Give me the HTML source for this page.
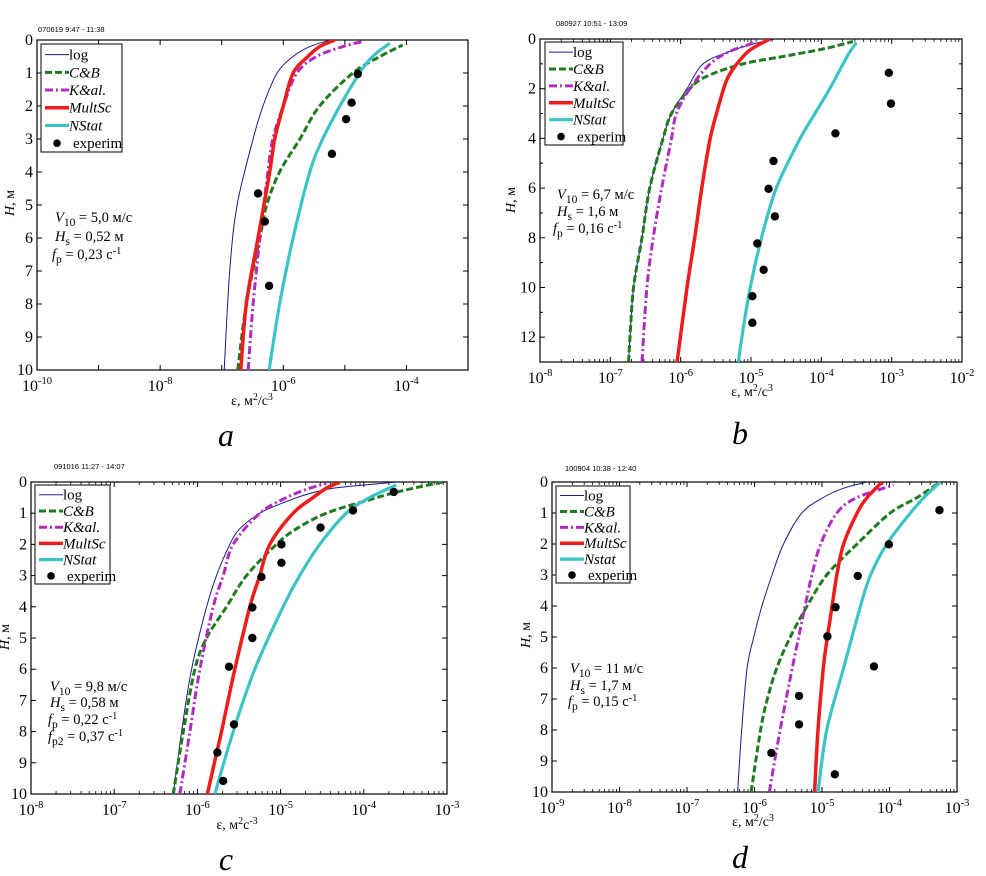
<!DOCTYPE html>
<html><head><meta charset="utf-8">
<style>
body{margin:0;background:#fff;}
svg{display:block;font-family:"Liberation Serif",serif;}
</style></head>
<body>
<svg id="fig" width="986" height="876" viewBox="0 0 986 876" xmlns="http://www.w3.org/2000/svg"></svg>
<script>
// ---------- DATA (exponents: log10 of ε) ----------
// Panel a
const aLogH=[10,7,5,3,2,1,0.5,0.2,0];
const aLogE=[-6.96,-6.87,-6.75,-6.49,-6.33,-6.1,-5.84,-5.57,-5.24];
const aCBH=[10,8,6,5,4,3,2,1,0.5,0.15];
const aCBE=[-6.74,-6.6,-6.38,-6.27,-6.06,-5.73,-5.41,-4.87,-4.43,-4.06];
const aKH=[10,8,6,4,3,2,1,0.5,0.2,0.05];
const aKE=[-6.57,-6.49,-6.38,-6.25,-6.17,-6.0,-5.78,-5.46,-5.03,-4.72];
const aMSH=[10,8,6,4,3,2,1,0.5,0.2,0];
const aMSE=[-6.69,-6.6,-6.41,-6.22,-6.14,-6.0,-5.84,-5.6,-5.41,-5.16];
const aNSH=[10,8,6,4,3,2,1,0.5,0.1];
const aNSE=[-6.23,-6.06,-5.84,-5.57,-5.36,-5.08,-4.76,-4.55,-4.27];
const aExpH=[4.65,5.5,7.45,3.45,2.4,1.9,1.03];
const aExpE=[-6.41,-6.3,-6.23,-5.21,-4.98,-4.89,-4.79];
// Panel b
const bLogH=[13,12,10,8,6,4,3,2,1,0.5,0.2,0];
const bLogE=[-6.74,-6.72,-6.67,-6.55,-6.44,-6.25,-6.13,-5.91,-5.68,-5.3,-4.97,-4.66];
const bCBH=[13,12,10,8,6,4,3,2,1.5,1,0.7,0.4,0.1];
const bCBE=[-6.74,-6.72,-6.67,-6.55,-6.44,-6.25,-6.13,-5.87,-5.63,-5.11,-4.54,-3.97,-3.55];
const bKH=[13,10,8,6,4,3,2,1,0.5,0.2,0.05];
const bKE=[-6.55,-6.48,-6.39,-6.27,-6.13,-6.06,-5.87,-5.58,-5.3,-5.01,-4.92];
const bMSH=[13,10,8,6,4,3,2,1.5,1,0.5,0.2,0];
const bMSE=[-6.05,-5.91,-5.8,-5.7,-5.58,-5.49,-5.39,-5.32,-5.2,-5.04,-4.87,-4.73];
const bNSH=[13,12,10,8,6,4,3,2,1,0.5,0.15];
const bNSE=[-5.18,-5.13,-5.01,-4.85,-4.64,-4.3,-4.09,-3.88,-3.69,-3.59,-3.5];
const bExpH=[1.36,2.6,3.8,4.91,6.03,7.14,8.23,9.29,10.35,11.42];
const bExpE=[-3.04,-3.01,-3.8,-4.68,-4.75,-4.66,-4.91,-4.82,-4.98,-4.98];
// Panel c
const cLogH=[10,8,6,4,3,2,1.5,1,0.7,0.4,0.2,0.05,0];
const cLogE=[-6.29,-6.19,-6.07,-5.89,-5.77,-5.61,-5.49,-5.25,-5.0,-4.69,-4.37,-3.81,-3.6];
const cCBH=[10,8,6,5,4,3,2,1.5,1,0.6,0.3,0];
const cCBE=[-6.29,-6.17,-6.03,-5.89,-5.65,-5.41,-5.05,-4.81,-4.45,-3.97,-3.57,-3.05];
const cKH=[10,8,6,4,3,2,1,0.5,0.2,0.05];
const cKE=[-6.21,-6.09,-5.97,-5.81,-5.69,-5.57,-5.25,-4.93,-4.65,-4.45];
const cMSH=[10,8.7,8,6,4,3,2,1,0.5,0.2,0];
const cMSE=[-5.88,-5.77,-5.71,-5.55,-5.37,-5.25,-5.13,-4.85,-4.61,-4.45,-4.29];
const cNSH=[10,8,6,4,3,2,1,0.5,0.1];
const cNSE=[-5.79,-5.57,-5.31,-4.97,-4.77,-4.53,-4.21,-3.93,-3.61];
const cExpH=[0.32,0.91,1.46,2.0,2.59,3.04,4.02,5.0,5.92,7.77,8.67,9.58];
const cExpE=[-3.64,-4.13,-4.52,-4.99,-4.99,-5.23,-5.34,-5.34,-5.62,-5.56,-5.76,-5.69];
// Panel d
const dLogH=[10,8,6,5,4,3,2,1,0.5,0.2,0];
const dLogE=[-6.25,-6.19,-6.11,-6.01,-5.89,-5.74,-5.57,-5.3,-4.98,-4.68,-4.33];
const dCBH=[10,8,7,6,5,4,3,2,1,0.5,0];
const dCBE=[-6.05,-5.91,-5.81,-5.67,-5.47,-5.22,-4.93,-4.48,-3.99,-3.59,-3.25];
const dKH=[10,8,6,4,3,2,1,0.5,0.1];
const dKE=[-5.78,-5.62,-5.44,-5.25,-5.15,-5.02,-4.78,-4.48,-3.94];
const dMSH=[10,8,6,5,4,3,2,1,0.5,0];
const dMSE=[-5.11,-5.06,-4.98,-4.92,-4.85,-4.78,-4.68,-4.48,-4.33,-4.11];
const dNSH=[10,8,6,4,3,2,1,0.5,0];
const dNSE=[-5.06,-4.93,-4.68,-4.43,-4.28,-4.04,-3.69,-3.49,-3.25];
const dExpH=[0.91,2.01,3.03,4.04,4.98,5.95,6.9,7.82,8.74,9.43];
const dExpE=[-3.26,-4.01,-4.47,-4.8,-4.92,-4.23,-5.34,-5.34,-5.75,-4.81];
// Tick labels
const aXTicks=[-10,-8,-6,-4];
const bXTicks=[-8,-7,-6,-5,-4,-3,-2];
const cXTicks=[-8,-7,-6,-5,-4,-3];
const dXTicks=[-9,-8,-7,-6,-5,-4,-3];
const aYTicks=[0,1,2,3,4,5,6,7,8,9,10];
const bYTicks=[0,2,4,6,8,10,12];
const cYTicks=[0,1,2,3,4,5,6,7,8,9,10];
const dYTicks=[0,1,2,3,4,5,6,7,8,9,10];
const legendLabels=["log","C&B","K&al.","MultSc","NStat","experim"];

// ---------- DRAWING ----------
const NS="http://www.w3.org/2000/svg";
const svg=document.getElementById('fig');
function mk(tag,attrs,parent){const e=document.createElementNS(NS,tag);for(const k in attrs)e.setAttribute(k,attrs[k]);(parent||svg).appendChild(e);return e;}
function smooth(P){
 let d="M"+P[0][0].toFixed(1)+","+P[0][1].toFixed(1);
 for(let i=0;i<P.length-1;i++){
  const p0=P[i-1]||P[i],p1=P[i],p2=P[i+1],p3=P[i+2]||P[i+1];
  const c1=[p1[0]+(p2[0]-p0[0])/6,p1[1]+(p2[1]-p0[1])/6];
  const c2=[p2[0]-(p3[0]-p1[0])/6,p2[1]-(p3[1]-p1[1])/6];
  d+=` C${c1[0].toFixed(1)},${c1[1].toFixed(1)} ${c2[0].toFixed(1)},${c2[1].toFixed(1)} ${p2[0].toFixed(1)},${p2[1].toFixed(1)}`;
 }
 return d;
}

const styles={
 log:{stroke:"#1a1a8c","stroke-width":1,fill:"none"},
 cb:{stroke:"#1f7a1f","stroke-width":3,"stroke-dasharray":"7,3",fill:"none"},
 k:{stroke:"#b02cc0","stroke-width":3,"stroke-dasharray":"8,3,2,3",fill:"none"},
 ms:{stroke:"#ee1c1c","stroke-width":3.5,fill:"none"},
 ns:{stroke:"#3cc4c4","stroke-width":3.2,fill:"none"}
};

const panels=[
 {id:"a",x0:37,x1:468,y0:40,y1:370,xmin:-10,xmax:-3,ymax:10,xt:aXTicks,yt:aYTicks,minor:false,
  series:[["log",aLogH,aLogE],["cb",aCBH,aCBE],["k",aKH,aKE],["ms",aMSH,aMSE],["ns",aNSH,aNSE]],exp:[aExpH,aExpE],
  stamp:"070619  9:47 - 11:38",sx:38,sy:32,leg:[41,44,81,108],legNS:"NStat",
  ann:[[55,222,"V","10"," = 5,0 м/с"],[55,241,"H","s"," = 0,52 м"],[52,259,"f","p"," = 0,23 с","-1"]],
  xl:[252,405],ylab:[14,203],letter:[226,446]},
 {id:"b",x0:540,x1:962,y0:39,y1:362,xmin:-8,xmax:-2,ymax:13,xt:bXTicks,yt:bYTicks,minor:true,
  series:[["log",bLogH,bLogE],["cb",bCBH,bCBE],["k",bKH,bKE],["ms",bMSH,bMSE],["ns",bNSH,bNSE]],exp:[bExpH,bExpE],
  stamp:"080927  10:51 - 13:09",sx:556,sy:26,leg:[545,42,78,103],legNS:"NStat",
  ann:[[557,199,"V","10"," = 6,7 м/с"],[557,216,"H","s"," =  1,6 м"],[553,233,"f","p"," = 0,16 с","-1"]],
  xl:[752,396],ylab:[515,200],letter:[740,444]},
 {id:"c",x0:31,x1:447,y0:482,y1:794,xmin:-8,xmax:-3,ymax:10,xt:cXTicks,yt:cYTicks,minor:true,
  series:[["log",cLogH,cLogE],["cb",cCBH,cCBE],["k",cKH,cKE],["ms",cMSH,cMSE],["ns",cNSH,cNSE]],exp:[cExpH,cExpE],
  stamp:"091016  11:27 - 14:07",sx:54,sy:469,leg:[35,485,75,99],legNS:"NStat",
  ann:[[50,691,"V","10"," = 9,8 м/с"],[50,707,"H","s"," =  0,58 м"],[48,724,"f","p"," = 0,22 с","-1"],[48,741,"f","p2"," = 0,37 с","-1"]],
  xl:[237,829],ylab:[9,637],letter:[226,870]},
 {id:"d",x0:552,x1:957,y0:482,y1:792,xmin:-9,xmax:-3,ymax:10,xt:dXTicks,yt:dYTicks,minor:true,
  series:[["log",dLogH,dLogE],["cb",dCBH,dCBE],["k",dKH,dKE],["ms",dMSH,dMSE],["ns",dNSH,dNSE]],exp:[dExpH,dExpE],
  stamp:"100904  10:38 - 12:40",sx:565,sy:471,leg:[556,486,74,97],legNS:"Nstat",
  ann:[[570,673,"V","10"," = 11 м/с"],[570,690,"H","s"," = 1,7 м"],[568,706,"f","p"," = 0,15 с","-1"]],
  xl:[753,826],ylab:[530,635],letter:[740,868]}
];

panels.forEach(p=>{
 const g=mk('g',{});
 
 
 const X=v=>p.x0+(v-p.xmin)/(p.xmax-p.xmin)*(p.x1-p.x0);
 const Y=h=>p.y0+h/p.ymax*(p.y1-p.y0);
 const st=mk('text',{x:p.sx,y:p.sy,"font-family":"Liberation Sans,sans-serif","font-size":7.5,fill:"#000"},g);
 st.textContent=p.stamp;
 
 
 const fr=mk('rect',{x:p.x0,y:p.y0,width:p.x1-p.x0,height:p.y1-p.y0,fill:"#fff",stroke:"#000","stroke-width":1.2},g);
 
 
 const cp=mk('clipPath',{id:'clip'+p.id},g);
 mk('rect',{x:p.x0,y:p.y0,width:p.x1-p.x0,height:p.y1-p.y0},cp);
 for(let d=p.xmin;d<=p.xmax;d++){
  const x=X(d);
  mk('line',{x1:x,y1:p.y1,x2:x,y2:p.y1-5,stroke:"#000"},g);
  mk('line',{x1:x,y1:p.y0,x2:x,y2:p.y0+5,stroke:"#000"},g);
  if(p.minor&&d<p.xmax){for(let m=2;m<10;m++){const xm=X(d+Math.log10(m));
   mk('line',{x1:xm,y1:p.y1,x2:xm,y2:p.y1-3,stroke:"#000","stroke-width":0.8},g);
   mk('line',{x1:xm,y1:p.y0,x2:xm,y2:p.y0+3,stroke:"#000","stroke-width":0.8},g);}}
 }
 p.xt.forEach(v=>{
  const t=mk('text',{x:X(v),y:p.y1+21,"font-size":16,"text-anchor":"middle"},g);
  t.textContent="10";
  const s=mk('tspan',{dy:-7,"font-size":10.5},t);s.textContent=String(v);
  
  
 });
 p.yt.forEach(h=>{
  const y=Y(h);
  mk('line',{x1:p.x0,y1:y,x2:p.x0+5,y2:y,stroke:"#000"},g);
  mk('line',{x1:p.x1,y1:y,x2:p.x1-5,y2:y,stroke:"#000"},g);
  const t=mk('text',{x:p.x0-4,y:y+5,"font-size":16,"text-anchor":"end"},g);
  t.textContent=h;
  
  
 });
 if(p.id==="b"){for(let h=1;h<=13;h++){if(h%2){const y=Y(h);mk('line',{x1:p.x0,y1:y,x2:p.x0+3,y2:y,stroke:"#000"},g);mk('line',{x1:p.x1,y1:y,x2:p.x1-3,y2:y,stroke:"#000"},g);}}}
 const sg=mk('g',{"clip-path":`url(#clip${p.id})`},g);
 p.series.forEach(([key,H,E])=>{
  const P=H.map((h,i)=>[X(E[i]),Y(h)]);
  const pl=mk('path',Object.assign({d:smooth(P),"stroke-linejoin":"round"},styles[key]),sg);
  
  
 });
 p.exp[0].forEach((h,i)=>{
  const c=mk('circle',{cx:X(p.exp[1][i]),cy:Y(h),r:4.2,fill:"#000"},sg);
  
  
 });
 const [lx,ly,lw,lh]=p.leg;
 const lg=mk('g',{},g);
 
 
 mk('rect',{x:lx,y:ly,width:lw,height:lh,fill:"#fff",stroke:"#000"},lg);
 const step=lh/6.1;
 const keys=["log","cb","k","ms","ns"];
 legendLabels.forEach((lab,i)=>{
  const yy=ly+step*(i+0.6);
  if(i<5){mk('line',Object.assign({x1:lx+4,y1:yy,x2:lx+28,y2:yy},styles[keys[i]]),lg);}
  else mk('circle',{cx:lx+16,cy:yy,r:3.8,fill:"#000"},lg);
  const txt=(i===4)?p.legNS:lab;
  const t=mk('text',{x:(i===5)?lx+32:lx+28,y:yy+5,"font-size":15,"font-style":(i>0&&i<5)?"italic":"normal"},lg);
  t.textContent=txt;
  
  
 });
 p.ann.forEach(a=>{
  const t=mk('text',{x:a[0],y:a[1],"font-size":14.5},g);
  const t1=mk('tspan',{"font-style":"italic"},t);t1.textContent=a[2];
  const t2=mk('tspan',{dy:4,"font-size":11.5},t);t2.textContent=a[3];
  const t3=mk('tspan',{dy:-4},t);t3.textContent=a[4];
  if(a[5]){const t4=mk('tspan',{dy:-5,"font-size":10.5},t);t4.textContent=a[5];}
  
  
 });
 const xl=mk('text',{x:p.xl[0],y:p.xl[1],"font-size":14,"text-anchor":"middle"},g);
 xl.textContent="ε, м";
 const s1=mk('tspan',{dy:-5,"font-size":10},xl);s1.textContent="2";
 const s2=mk('tspan',{dy:5},xl);s2.textContent=p.id==="c"?"с":"/с";
 const s3=mk('tspan',{dy:-5,"font-size":10},xl);s3.textContent=p.id==="c"?"-3":"3";
 
 
 const yl=mk('text',{x:0,y:0,"font-size":14,"text-anchor":"middle",transform:`translate(${p.ylab[0]},${p.ylab[1]}) rotate(-90)`},g);
 const y1=mk('tspan',{"font-style":"italic"},yl);y1.textContent="H";
 const y2=mk('tspan',{},yl);y2.textContent=", м";
 
 
 const le=mk('text',{x:p.letter[0],y:p.letter[1],"font-size":32,"font-style":"italic","text-anchor":"middle"},g);
 le.textContent=p.id;
 
 
});
</script>
</body></html>
